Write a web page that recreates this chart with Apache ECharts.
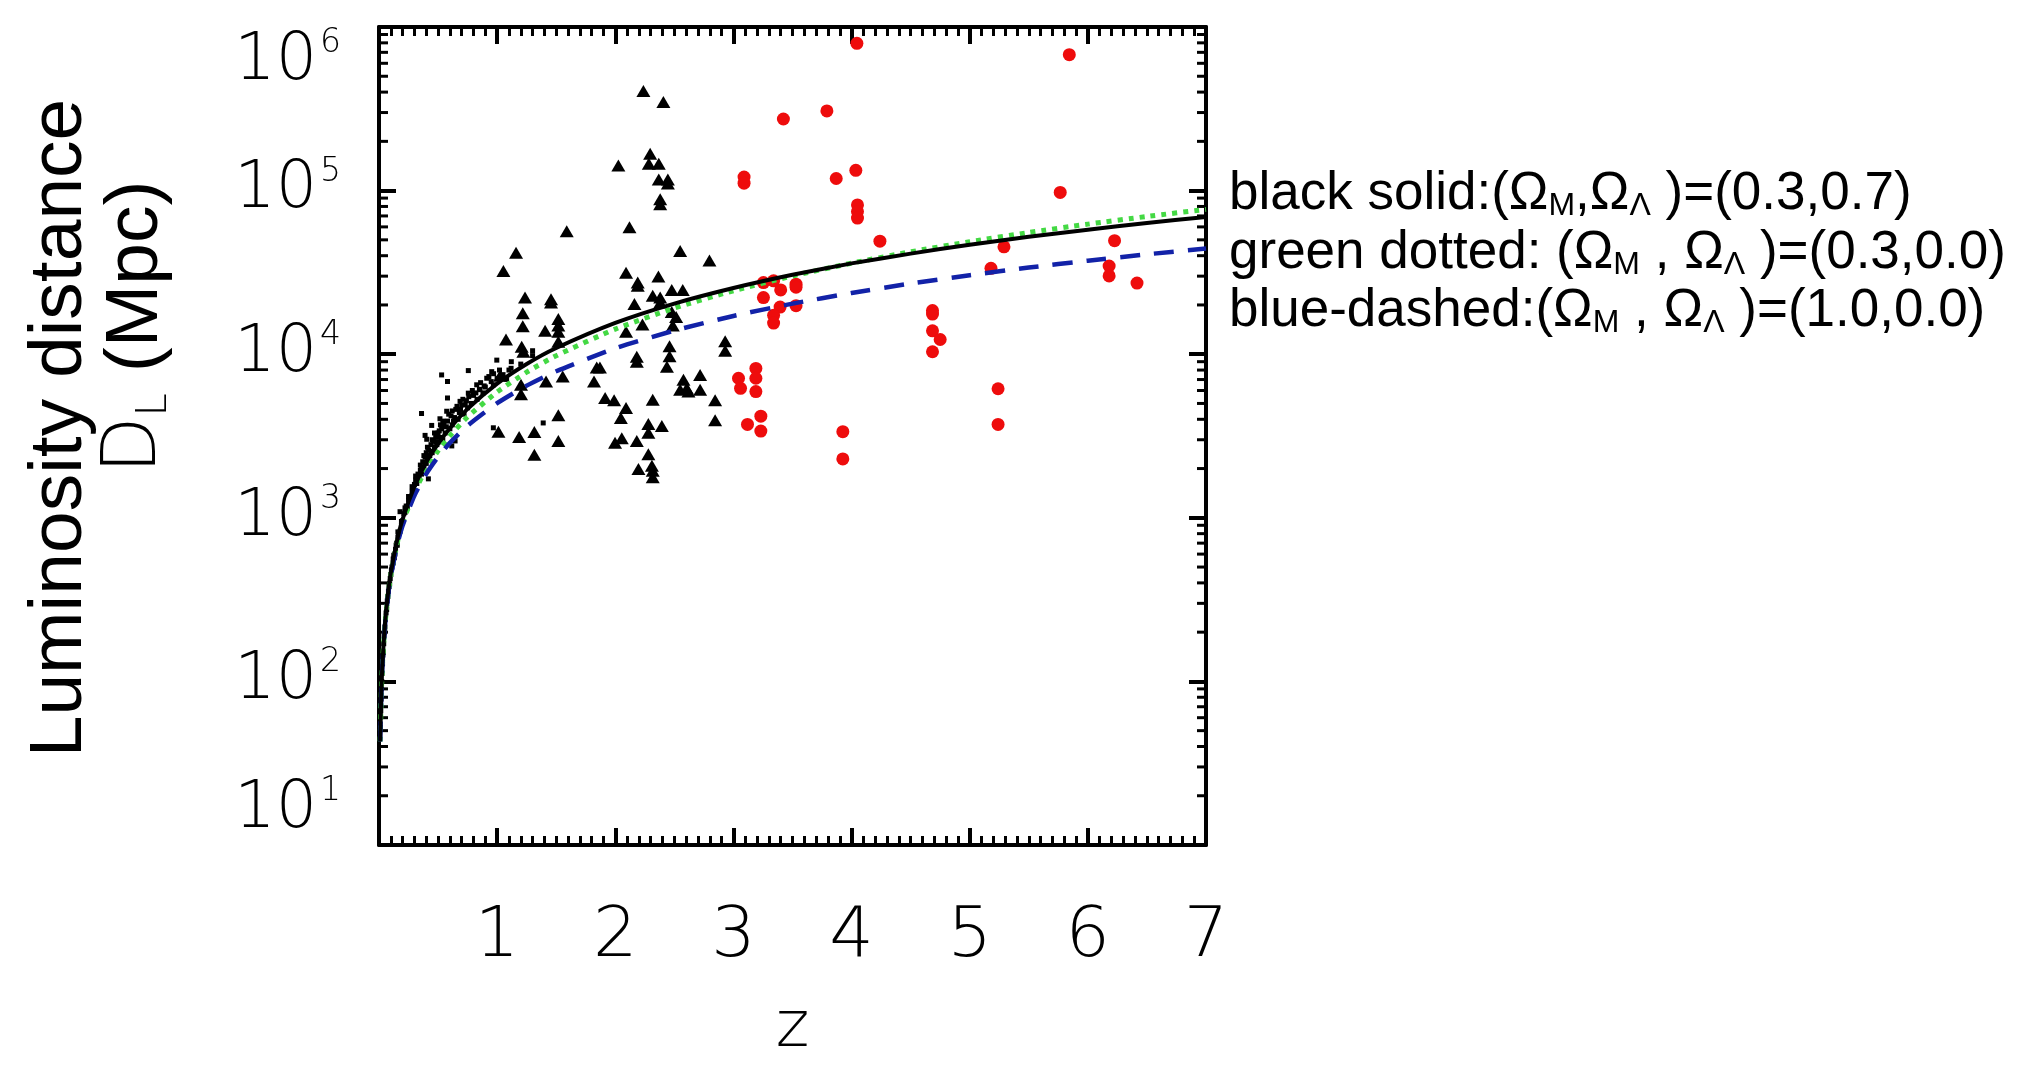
<!DOCTYPE html>
<html>
<head>
<meta charset="utf-8">
<title>Luminosity distance vs z</title>
<script src="https://cdn.jsdelivr.net/npm/echarts@6.0.0/dist/echarts.min.js"></script>
<style>
    html, body {margin: 0; padding: 0; background: #fff;}
    #distanceChart {width: 2032px; height: 1066px;}
</style>
</head>
<body>
<div id="distanceChart"></div>
<script>
// model curves at these redshifts
var curveZ = [0.01, 0.02, 0.03, 0.05, 0.075, 0.1, 0.15, 0.2, 0.3, 0.4, 0.5, 0.6, 0.75, 1.0, 1.25, 1.5,
    2, 2.5, 3, 3.5, 4, 4.5, 5, 5.5, 6, 6.5, 7];
var curveSolid = [43, 87, 132, 222, 340, 460, 710, 981, 1552, 2188, 2833, 3530, 4635, 6607, 8709, 10910,
    15540, 20400, 25400, 30600, 35900, 41200, 46700, 52200, 57700, 63400, 69000];
var curveDotted = [43, 86, 130, 219, 331, 446, 682, 927, 1442, 1988, 2565, 3172, 4135, 5873, 7764, 9797,
    14243, 19141, 24433, 30073, 36024, 42254, 48737, 55451, 62375, 69494, 76790];
var curveDashed = [43, 86, 129, 217, 327, 439, 665, 896, 1369, 1857, 2358, 2870, 3659, 5018, 6425, 7871,
    10861, 13956, 17132, 20376, 23676, 27024, 30414, 33840, 37299, 40786, 44300];

// small black dots
var dotZ = [0.012, 0.015, 0.018, 0.02, 0.023, 0.026, 0.03, 0.033, 0.036, 0.04, 0.043, 0.047, 0.05, 0.055, 0.06,
    0.065, 0.07, 0.075, 0.08, 0.085, 0.09, 0.095, 0.1, 0.105, 0.11, 0.12, 0.125, 0.13, 0.14, 0.15, 0.155, 0.16,
    0.17, 0.178, 0.18, 0.19, 0.2, 0.21, 0.22, 0.23, 0.24, 0.25, 0.26, 0.27, 0.28, 0.29, 0.3, 0.3, 0.31, 0.32,
    0.33, 0.34, 0.35, 0.36, 0.36, 0.36, 0.37, 0.38, 0.39, 0.39, 0.4, 0.4, 0.404, 0.41, 0.418, 0.42, 0.43, 0.44,
    0.446, 0.45, 0.46, 0.47, 0.48, 0.49, 0.5, 0.5, 0.516, 0.52, 0.53, 0.53, 0.54, 0.55, 0.56, 0.573, 0.58, 0.58,
    0.58, 0.6, 0.61, 0.616, 0.62, 0.64, 0.644, 0.65, 0.67, 0.68, 0.686, 0.7, 0.72, 0.74, 0.75, 0.756, 0.756,
    0.78, 0.8, 0.827, 0.83, 0.85, 0.855, 0.88, 0.9, 0.912, 0.95, 0.954, 0.968, 0.968, 0.997, 1.0, 1.05, 1.08,
    1.1, 1.118, 1.2, 1.3, 1.3, 1.39,
    0.12, 0.135, 0.145, 0.165, 0.16, 0.19, 0.22, 0.25, 0.28, 0.31, 0.33, 0.35, 0.37, 0.38, 0.41, 0.42, 0.44,
    0.45, 0.47, 0.48, 0.51, 0.52, 0.54, 0.57, 0.59, 0.62, 0.63, 0.66, 0.69, 0.71, 0.73, 0.76, 0.79, 0.82,
    0.86, 0.89, 0.93, 0.97, 1.02, 1.12];
var dotD = [52, 66, 78, 90, 100, 112, 128, 145, 150, 170, 190, 200, 215, 240, 262,
    275, 310, 330, 355, 380, 395, 425, 450, 480, 500, 530, 590, 570, 640, 700, 680, 760,
    800, 1090, 830, 900, 960, 1060, 1080, 1180, 1150, 1280, 1350, 1300, 1450, 1500, 1600, 1450, 1700, 1620,
    1850, 1750, 1950, 2050, 1850, 4340, 2200, 2000, 2350, 3190, 2150, 2500, 3020, 2300, 1730, 2600, 2400, 2800,
    3670, 2500, 2950, 2700, 3100, 2800, 3300, 2900, 4030, 3100, 3500, 7470, 3000, 3700, 3300, 4480, 3900, 5400,
    6810, 3500, 4200, 2750, 3700, 4100, 2950, 4600, 4000, 4400, 5150, 4900, 4300, 5200, 4700, 5780, 7940,
    5000, 5600, 6500, 5300, 6100, 6070, 5800, 6300, 7130, 6800, 7820, 6500, 3550, 9200, 7100, 7500, 7030,
    8000, 8200, 8700, 9800, 10500, 3800,
    560, 600, 680, 780, 820, 950, 1150, 1350, 1550, 1800, 1700, 2100, 2000, 2400, 2700, 2350, 2550,
    3000, 3300, 2900, 3400, 3700, 3900, 3600, 4300, 4500, 3900, 4800, 4600, 5300, 4900, 5500, 6000, 5800,
    6700, 6400, 7300, 7600, 8000, 9000];

// black triangles
var triZ = [2.238, 2.407, 2.026, 2.295, 2.284, 2.368, 2.368, 2.445, 2.445, 2.38, 2.38, 1.589, 2.12, 1.16, 1.053,
    2.549, 2.797, 2.091, 2.365, 2.19, 2.19, 1.236, 1.456, 1.456, 2.478, 2.571, 2.317, 2.38, 2.38, 1.217, 1.518,
    1.518, 1.217, 1.406, 1.518, 2.162, 2.478, 2.515, 2.487, 2.23, 2.091, 1.518, 1.075, 1.208, 1.222, 2.459,
    2.459, 2.93, 2.93, 2.182, 2.182, 2.437, 1.843, 1.87, 1.82, 1.414, 1.555, 1.202, 1.202, 1.025, 2.577, 2.605,
    2.549, 2.619, 2.718, 2.718, 1.914, 1.99, 2.317, 2.845, 2.091, 1.518, 2.047, 2.28, 2.394, 2.28, 2.845, 1.011,
    1.186, 1.315, 1.315, 1.518, 1.998, 2.055, 2.182, 2.28, 2.31, 2.317, 2.317, 2.196];
var triD = [406000, 348000, 142600, 168000, 146000, 146000, 117000, 117000, 110700, 88500, 82400, 56400, 59600,
    41700, 32300, 42700, 37400, 31500, 29900, 27400, 26200, 22200, 21700, 20700, 24700, 24700, 22800, 22200,
    20700, 17800, 16400, 15000, 14800, 13900, 13700, 20300, 18100, 16900, 15000, 15200, 13700, 11900, 12300,
    11100, 10350, 11200, 9700, 12000, 10500, 9640, 9000, 8390, 8280, 8280, 6810, 6810, 7300, 6500, 5700, 7390,
    6970, 6200, 6070, 5910, 7460, 6070, 5400, 5230, 5270, 5230, 4690, 4240, 4080, 3750, 3640, 3310, 3950, 3360,
    3120, 3340, 2430, 2950, 2880, 3060, 2950, 2450, 2080, 1940, 1770, 1990];

// red circles
var redZ = [4.045, 5.843, 3.423, 3.791, 3.09, 3.09, 3.87, 4.036, 4.05, 4.05, 4.05, 4.24, 5.766, 6.226, 5.29,
    5.18, 6.18, 6.18, 6.416, 3.254, 3.34, 3.40, 3.53, 3.53, 3.254, 3.395, 3.34, 3.34, 3.53, 4.685, 4.685,
    4.685, 4.75, 4.685, 5.24, 5.24, 3.926, 3.926, 3.043, 3.06, 3.19, 3.19, 3.19, 3.119, 3.232, 3.232];
var redD = [795000, 677000, 274000, 307000, 121000, 111000, 118600, 133000, 81700, 74500, 67900, 49100, 97500,
    49400, 45300, 33500, 34600, 30100, 27200, 27400, 28100, 24700, 26800, 25700, 22200, 19400, 17300, 15500,
    19800, 18500, 17600, 13900, 12300, 10350, 6150, 3720, 3360, 2290, 7130, 6190, 8190, 7130, 5910, 3720,
    4180, 3390];

// log axis minor ticks
var tickDecades = [10, 100, 1000, 10000, 100000];
var tickSteps = [2, 3, 4, 5, 6, 7, 8, 9];

var distanceChart = {
    init: function () {
        var that = this
        that.draw()
    },
    pairs: function (xs, ys) {
        var out = [];
        for (var i = 0; i < xs.length; i++) {
            out.push([xs[i], ys[i]]);
        }
        return out;
    },
    draw: function () {
        var that = this
        var myChart = echarts.init(document.getElementById('distanceChart'));
        var minorTicks = [];
        tickDecades.forEach(function (d) {
            tickSteps.forEach(function (s) {
                minorTicks.push([0, d * s]);
            });
        });
        var thin = 'DejaVu Sans';
        var arial = 'Liberation Sans, Arial, sans-serif';
        var xAxisBase = {
            type: 'value', min: 0, max: 7, interval: 1,
            axisLine: {show: true, onZero: false, lineStyle: {color: '#000', width: 4}},
            axisTick: {inside: true, length: 17, lineStyle: {color: '#000', width: 4}},
            minorTick: {show: true, splitNumber: 10, length: 9, lineStyle: {color: '#000', width: 3}},
            splitLine: {show: false}
        };
        var yAxisBase = {
            type: 'log', logBase: 10, min: 10, max: 1000000,
            axisLine: {show: true, onZero: false, lineStyle: {color: '#000', width: 4}},
            axisTick: {inside: true, length: 17, lineStyle: {color: '#000', width: 4}},
            splitLine: {show: false}
        };
        var option = {
            animation: false,
            backgroundColor: '#fff',
            grid: {left: 379, right: 826, top: 27, bottom: 213},
            xAxis: [
                Object.assign({}, xAxisBase, {
                    position: 'bottom',
                    axisLabel: {
                        margin: 58, color: '#000', fontSize: 70, fontFamily: thin, fontWeight: 200,
                        formatter: function (v) { return v === 0 ? '' : String(v); }
                    },
                    name: 'z', nameLocation: 'middle', nameGap: 152,
                    nameTextStyle: {color: '#000', fontSize: 64, fontFamily: thin, fontWeight: 200}
                }),
                Object.assign({}, xAxisBase, {position: 'top', axisLabel: {show: false}})
            ],
            yAxis: [
                Object.assign({}, yAxisBase, {
                    position: 'left',
                    axisLabel: {
                        margin: 38,
                        verticalAlignMaxLabel: 'top',
                        verticalAlignMinLabel: 'bottom',
                        formatter: function (v) {
                            return '{b|10}{s|' + Math.round(Math.log10(v)) + '}';
                        },
                        rich: {
                            b: {fontSize: 65, lineHeight: 70, fontFamily: thin, fontWeight: 200, color: '#000'},
                            s: {fontSize: 33, lineHeight: 2, verticalAlign: 'top', padding: [0, 0, 0, 3], fontFamily: thin, fontWeight: 200, color: '#000'}
                        }
                    }
                }),
                Object.assign({}, yAxisBase, {position: 'right', axisLabel: {show: false}})
            ],
            graphic: [
                {
                    type: 'text', x: 60, y: 428, rotation: Math.PI / 2,
                    style: {
                        text: 'Luminosity distance', fontSize: 75, fontFamily: arial, fill: '#000',
                        align: 'center', verticalAlign: 'middle',
                        shadowColor: 'rgba(0,0,0,0.45)', shadowBlur: 5, shadowOffsetX: 4, shadowOffsetY: 3
                    }
                },
                {
                    type: 'text', x: 136, y: 327, rotation: Math.PI / 2,
                    style: {
                        text: '{d|D}{l|L}{m| (Mpc)}', align: 'center', verticalAlign: 'middle',
                        shadowColor: 'rgba(0,0,0,0.45)', shadowBlur: 5, shadowOffsetX: 4, shadowOffsetY: 3,
                        rich: {
                            d: {fontSize: 74, lineHeight: 80, fontFamily: thin, fontWeight: 200, fill: '#000'},
                            l: {fontSize: 42, lineHeight: 30, verticalAlign: 'bottom', fontFamily: thin, fontWeight: 200, fill: '#000'},
                            m: {fontSize: 75, lineHeight: 80, fontFamily: arial, fill: '#000'}
                        }
                    }
                },
                that.note(194, '{n|black solid:(Ω}{s|M}{n|,Ω}{s|Λ}{n| )=(0.3,0.7)}'),
                that.note(253, '{n|green dotted: (Ω}{s|M}{n| , Ω}{s|Λ}{n| )=(0.3,0.0)}'),
                that.note(311, '{n|blue-dashed:(Ω}{s|M}{n| , Ω}{s|Λ}{n| )=(1.0,0.0)}')
            ],
            series: [
                {
                    type: 'custom',
                    silent: true,
                    data: minorTicks,
                    renderItem: function (params, api) {
                        var l = api.coord([0, api.value(1)]);
                        var r = api.coord([7, api.value(1)]);
                        return {
                            type: 'group',
                            children: [
                                {type: 'line', shape: {x1: l[0], y1: l[1], x2: l[0] + 9, y2: l[1]}, style: {stroke: '#000', lineWidth: 3}},
                                {type: 'line', shape: {x1: r[0], y1: r[1], x2: r[0] - 9, y2: r[1]}, style: {stroke: '#000', lineWidth: 3}}
                            ]
                        };
                    }
                },
                {
                    type: 'scatter', symbol: 'rect', symbolSize: 5,
                    itemStyle: {color: '#000', opacity: 1},
                    data: that.pairs(dotZ, dotD)
                },
                {
                    type: 'scatter', symbol: 'triangle', symbolSize: [14, 12],
                    itemStyle: {color: '#000', opacity: 1},
                    data: that.pairs(triZ, triD)
                },
                {
                    type: 'scatter', symbol: 'circle', symbolSize: 13,
                    itemStyle: {color: '#ee0c0c', opacity: 1},
                    data: that.pairs(redZ, redD)
                },
                {
                    type: 'line', showSymbol: false, smooth: 0.2,
                    lineStyle: {color: '#44d944', width: 5, type: [5, 6]},
                    data: that.pairs(curveZ, curveDotted)
                },
                {
                    type: 'line', showSymbol: false, smooth: 0.2,
                    lineStyle: {color: '#1222a8', width: 4.5, type: [20, 14]},
                    data: that.pairs(curveZ, curveDashed)
                },
                {
                    type: 'line', showSymbol: false, smooth: 0.2,
                    lineStyle: {color: '#000', width: 4},
                    data: that.pairs(curveZ, curveSolid)
                }
            ]
        };
        myChart.setOption(option);
    },
    note: function (y, text) {
        return {
            type: 'text', x: 1229, y: y,
            style: {
                text: text, align: 'left', verticalAlign: 'middle',
                rich: {
                    n: {fontSize: 53, lineHeight: 56, fontFamily: 'Liberation Sans, Arial, sans-serif', fill: '#000'},
                    s: {fontSize: 32, lineHeight: 20, verticalAlign: 'bottom', fontFamily: 'Liberation Sans, Arial, sans-serif', fill: '#000'}
                }
            }
        };
    }
}
distanceChart.init();
</script>
</body>
</html>
